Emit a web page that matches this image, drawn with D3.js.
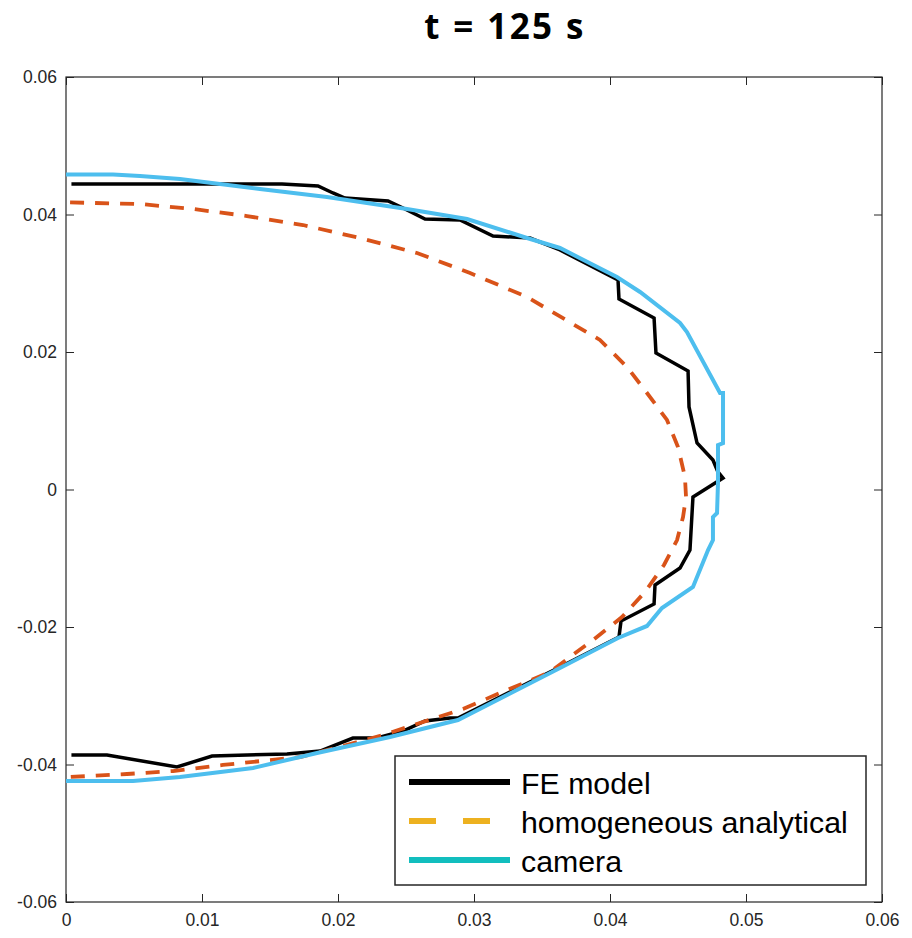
<!DOCTYPE html>
<html>
<head>
<meta charset="utf-8">
<script src="https://cdn.jsdelivr.net/npm/d3@7"></script>
<style>
  html, body { margin: 0; padding: 0; background: #ffffff; }
  svg { display: block; }
</style>
</head>
<body>
<svg id="chart" width="912" height="938"></svg>
<script>
// ---- data ----
const titleText = "t = 125 s";
const xTicks = [0, 0.01, 0.02, 0.03, 0.04, 0.05, 0.06];
const yTicks = [-0.06, -0.04, -0.02, 0, 0.02, 0.04, 0.06];
const seriesNames = ["FE model", "homogeneous analytical", "camera"];

const feX = [0.0004, 0.01588, 0.01853, 0.01963, 0.02051, 0.02368, 0.02478, 0.02640, 0.02897, 0.03140, 0.03412, 0.03632, 0.04059, 0.04066, 0.04324, 0.04338, 0.04574, 0.04581, 0.04640, 0.04757, 0.04794, 0.04831, 0.04610, 0.04588, 0.04515, 0.04331, 0.04324, 0.04081, 0.04066, 0.03632, 0.02882, 0.02824, 0.02640, 0.02478, 0.02287, 0.02110, 0.01868, 0.01625, 0.01074, 0.00816, 0.00301, 0.0004];
const feY = [0.04444, 0.04444, 0.04415, 0.04313, 0.04240, 0.04196, 0.04095, 0.03935, 0.03920, 0.03687, 0.03658, 0.03484, 0.03047, 0.02771, 0.02495, 0.01985, 0.01724, 0.01200, 0.00676, 0.00429, 0.00255, 0.00167, -0.00109, -0.00880, -0.01142, -0.01389, -0.01665, -0.01913, -0.02145, -0.02582, -0.03324, -0.03324, -0.03367, -0.03513, -0.03615, -0.03615, -0.03804, -0.03847, -0.03876, -0.04036, -0.03862, -0.03862];

const anX = [0.0003, 0.00544, 0.00934, 0.01331, 0.01743, 0.02162, 0.02581, 0.02971, 0.03390, 0.03926, 0.04125, 0.04272, 0.04419, 0.04500, 0.04551, 0.04559, 0.04537, 0.04493, 0.04397, 0.04257, 0.04088, 0.03875, 0.03706, 0.03559, 0.03191, 0.02919, 0.02331, 0.02088, 0.01721, 0.01154, 0.00787, 0.00449, 0.0003];
const anY = [0.04175, 0.04153, 0.04080, 0.03978, 0.03847, 0.03658, 0.03440, 0.03149, 0.02800, 0.02175, 0.01782, 0.01404, 0.01011, 0.00618, 0.00182, -0.00109, -0.00400, -0.00735, -0.01098, -0.01491, -0.01855, -0.02189, -0.02436, -0.02655, -0.02960, -0.03193, -0.03571, -0.03702, -0.03891, -0.04007, -0.04095, -0.04138, -0.04182];

const camX = [0, 0.00346, 0.00544, 0.00838, 0.01426, 0.01919, 0.02507, 0.02949, 0.03390, 0.03632, 0.04051, 0.04221, 0.04515, 0.04566, 0.04809, 0.04831, 0.04831, 0.04794, 0.04794, 0.04787, 0.04757, 0.04757, 0.04721, 0.04610, 0.04382, 0.04272, 0.04059, 0.03632, 0.02882, 0.02382, 0.01846, 0.01375, 0.00838, 0.00493, 0];
const camY = [0.04582, 0.04582, 0.04560, 0.04516, 0.04371, 0.04255, 0.04080, 0.03935, 0.03658, 0.03513, 0.03091, 0.02873, 0.02422, 0.02291, 0.01404, 0.01404, 0.00676, 0.00647, 0.00095, -0.00342, -0.00400, -0.00735, -0.00880, -0.01418, -0.01724, -0.01985, -0.02160, -0.02596, -0.03353, -0.03600, -0.03833, -0.04051, -0.04182, -0.04240, -0.04240];

// ---- drawing ----
const svg = d3.select("#chart");
const L = 66, R = 882, T = 77, B = 902;
const x = d3.scaleLinear().domain([0, 0.06]).range([L, R]);
const y = d3.scaleLinear().domain([-0.06, 0.06]).range([B, T]);
const axisColor = "#262626";
const font = "'Liberation Sans', Arial, Helvetica, sans-serif";

const fmt = d => d === 0 ? "0" : d.toFixed(2);

function styleAxis(g) {
  g.select(".domain").remove();
  g.selectAll(".tick line").attr("stroke", axisColor).attr("stroke-width", 1);
  g.selectAll(".tick text").attr("fill", axisColor).style("font-family", font).style("font-size", "17.5px");
}

svg.append("g").attr("transform", `translate(${L},0)`)
  .call(d3.axisLeft(y).tickValues(yTicks).tickFormat(fmt).tickSizeInner(-8).tickSizeOuter(0).tickPadding(9))
  .call(styleAxis);
svg.append("g").attr("transform", `translate(${R},0)`)
  .call(d3.axisRight(y).tickValues(yTicks).tickFormat("").tickSizeInner(-8).tickSizeOuter(0))
  .call(styleAxis);
svg.append("g").attr("transform", `translate(0,${B})`)
  .call(d3.axisBottom(x).tickValues(xTicks).tickFormat(fmt).tickSizeInner(-8).tickSizeOuter(0).tickPadding(12))
  .call(styleAxis);
svg.append("g").attr("transform", `translate(0,${T})`)
  .call(d3.axisTop(x).tickValues(xTicks).tickFormat("").tickSizeInner(-8).tickSizeOuter(0))
  .call(styleAxis);

svg.append("rect").attr("x", L).attr("y", T).attr("width", R - L).attr("height", B - T)
  .attr("fill", "none").attr("stroke", axisColor).attr("stroke-width", 1.2);

const line = d3.line().x(d => x(d[0])).y(d => y(d[1]));
const feData = d3.zip(feX, feY);
const anData = d3.zip(anX, anY);
const camData = d3.zip(camX, camY);

svg.append("path").datum(feData).attr("d", line)
  .attr("fill", "none").attr("stroke", "#000000").attr("stroke-width", 3.5).attr("stroke-linejoin", "miter");
svg.append("path").datum(anData).attr("d", line)
  .attr("fill", "none").attr("stroke", "#D95319").attr("stroke-width", 3.8).attr("stroke-dasharray", "14,11");
svg.append("path").datum(camData).attr("d", line)
  .attr("fill", "none").attr("stroke", "#4DBEEE").attr("stroke-width", 4).attr("stroke-linejoin", "miter");

// title
svg.append("text").attr("x", 505).attr("y", 39).attr("text-anchor", "middle")
  .style("font-family", "'Open Sans', Lato, sans-serif").style("font-weight", "bold").style("font-size", "35px")
  .style("letter-spacing", "2.4px")
  .attr("fill", "#000").text(titleText);

// legend
const lg = svg.append("g");
lg.append("rect").attr("x", 395).attr("y", 756).attr("width", 471).attr("height", 129)
  .attr("fill", "#fff").attr("stroke", axisColor).attr("stroke-width", 1.5);
const legendColors = ["#000000", "#EDB120", "#12BEBE"];
const legendDash = [null, "27,27", null];
seriesNames.forEach((name, i) => {
  const cy = 782 + i * 39;
  lg.append("line").attr("x1", 409).attr("x2", 510).attr("y1", cy).attr("y2", cy)
    .attr("stroke", legendColors[i]).attr("stroke-width", 6)
    .attr("stroke-dasharray", legendDash[i]);
  lg.append("text").attr("x", 521).attr("y", cy + 12)
    .style("font-family", font).style("font-size", "30.3px").attr("fill", "#000").text(name);
});
</script>
</body>
</html>
